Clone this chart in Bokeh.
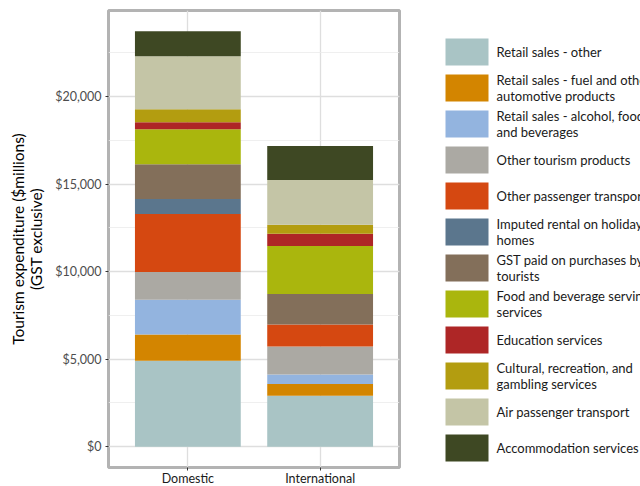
import math
from bokeh.plotting import figure
from bokeh.layouts import row
from bokeh.models import ColumnDataSource, Range1d, SingleIntervalTicker, FixedTicker, NumeralTickFormatter
from bokeh.core.properties import value
from bokeh.embed import file_html
from bokeh.resources import INLINE

categories = ["Domestic", "International"]

series = [
    "Retail sales - other",
    "Retail sales - fuel and other\nautomotive products",
    "Retail sales - alcohol, food\nand beverages",
    "Other tourism products",
    "Other passenger transport",
    "Imputed rental on holiday\nhomes",
    "GST paid on purchases by\ntourists",
    "Food and beverage serving\nservices",
    "Education services",
    "Cultural, recreation, and\ngambling services",
    "Air passenger transport",
    "Accommodation services",
]

domestic = [4910, 1500, 1980, 1590, 3310, 860, 1990, 2000, 400, 740, 3020, 1430]
international = [2910, 680, 540, 1590, 1260, 0, 1750, 2730, 710, 510, 2550, 1940]

y_title = ["Tourism expenditure ($millions)", "(GST exclusive)"]

colors = ["#A9C4C5", "#D38500", "#93B4DF", "#ABA9A3", "#D54811", "#5B768D",
          "#836F5A", "#AAB60D", "#AE2626", "#B39D10", "#C4C5A6", "#3E4823"]

FONT = "Lato"

keys = ["s%d" % i for i in range(len(series))]
data = {"x": [1, 2]}
for k, d, it in zip(keys, domestic, international):
    data[k] = [d, it]
src = ColumnDataSource(data)

ymax = max(sum(domestic), sum(international))
pad = 0.05 * ymax

TOP, BOTTOM = 10, 19
TW = 50            # width of the title strip
LEFT = 108 - TW    # left border of the main panel
FW, FH = 291, 457
XR = (0.4, 2.6)


def blank(fig):
    fig.axis.visible = False
    fig.grid.visible = False
    fig.outline_line_color = None


# y-axis title strip
tfig = figure(frame_width=TW, frame_height=FH, output_backend="svg", toolbar_location=None,
              x_range=Range1d(0, TW), y_range=Range1d(486 - BOTTOM, TOP),
              min_border_left=0, min_border_right=0, min_border_top=TOP, min_border_bottom=BOTTOM)
blank(tfig)
tfig.text(x=[17, 35], y=[(TOP + 486 - BOTTOM) / 2] * 2, text=y_title, angle=math.pi / 2,
          text_font=value(FONT), text_font_size="15.5px", text_color="#000000",
          text_align="center", text_baseline="middle")

p = figure(frame_width=FW, frame_height=FH, output_backend="svg", toolbar_location=None,
           x_range=Range1d(*XR), y_range=Range1d(-pad, ymax + pad),
           min_border_left=LEFT, min_border_right=21, min_border_top=TOP, min_border_bottom=BOTTOM)
p.vbar_stack(keys, x="x", width=0.8, color=colors, line_color=None, source=src)

p.outline_line_color = "#B3B3B3"
p.outline_line_width = 3

p.yaxis.ticker = SingleIntervalTicker(interval=5000, num_minor_ticks=2)
p.yaxis.formatter = NumeralTickFormatter(format="$0,0")
p.xaxis.ticker = FixedTicker(ticks=[1, 2])
p.xaxis.major_label_overrides = {1: categories[0], 2: categories[1]}

for ax in (p.xaxis[0], p.yaxis[0]):
    ax.axis_line_color = None
    ax.major_tick_line_color = "#333333"
    ax.major_tick_in = 0
    ax.major_tick_out = 3
    ax.minor_tick_line_color = None
    ax.major_label_text_font = FONT

p.yaxis.major_label_standoff = 3
p.xaxis.major_label_standoff = 0
p.yaxis.major_label_text_color = "#4D4D4D"
p.yaxis.major_label_text_font_size = "12.5px"
p.xaxis.major_label_text_color = "#1A1A1A"
p.xaxis.major_label_text_font_size = "12.5px"

p.xgrid.ticker = FixedTicker(ticks=[1, 2])
p.xgrid.grid_line_color = "#DEDEDE"
p.xgrid.grid_line_width = 1.3
p.ygrid.grid_line_color = "#DEDEDE"
p.ygrid.grid_line_width = 1.3
p.ygrid.minor_grid_line_color = "#EBEBEB"
p.ygrid.minor_grid_line_width = 0.8

# legend panel (frame aligned with main frame: screen rows TOP..486-BOTTOM)
leg = figure(frame_width=220, frame_height=FH, output_backend="svg", toolbar_location=None,
             x_range=Range1d(0, 220), y_range=Range1d(486 - BOTTOM, TOP),
             min_border_left=0, min_border_right=0,
             min_border_top=TOP, min_border_bottom=BOTTOM)
blank(leg)

kx, kw, kh, y0, dy = 46.5, 43, 27, 51.5, 36
ys = [y0 + dy * i for i in range(len(series))]
leg.rect(x=[kx] * len(series), y=ys, width=kw, height=kh, fill_color=colors, line_color=None)

tx, ty, tt = [], [], []
for lab, yc in zip(series, ys):
    lines = lab.split("\n")
    n = len(lines)
    for j, ln in enumerate(lines):
        tx.append(76)
        ty.append(yc + (j - (n - 1) / 2) * 16)
        tt.append(ln)
leg.text(x=tx, y=ty, text=tt, text_font=value(FONT), text_font_size="13px",
         text_color="#1A1A1A", text_baseline="middle", text_align="left")

layout = row(tfig, p, leg)
open("out.html", "w").write(file_html(layout, INLINE))
